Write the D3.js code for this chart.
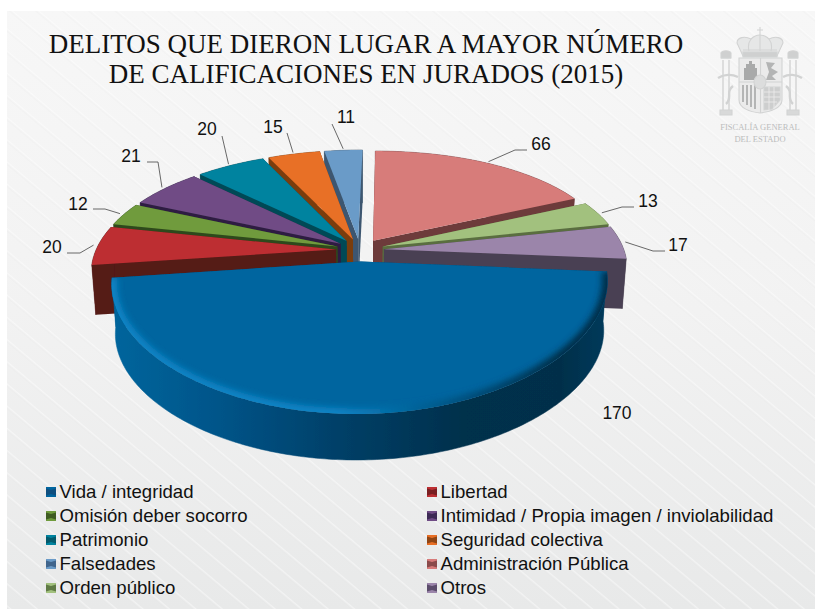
<!DOCTYPE html>
<html><head><meta charset="utf-8">
<style>html,body{margin:0;padding:0;background:#fff}svg{display:block}</style>
<script src="https://cdn.jsdelivr.net/npm/d3@7"></script></head>
<body><svg id="c" width="815" height="609"></svg>
<script>
const categories = ["Vida / integridad","Libertad","Omisión deber socorro","Intimidad / Propia imagen / inviolabilidad","Patrimonio","Seguridad colectiva","Falsedades","Administración Pública","Orden público","Otros"];
const values = [170,20,12,21,20,15,11,66,13,17];
const topColors = ["#00659f","#bd2f33","#6f9b3d","#6f4c85","#00839f","#e86f25","#6a9bc8","#d77b7a","#a2c17e","#9b85aa"];
const wallColors = ["#004a75","#551b18","#2f4a1c","#2e1f42","#004a56","#7a3c10","#3d566f","#6d3a3a","#5a6e40","#4a4153"];
const keyColors = ["#0f4f7f","#7a1f22","#3f5c22","#3d2a55","#045a6c","#8f4515","#40658c","#8a4a4a","#5f7a45","#5b4c6b"];
const leaderPaths = [null,[[80,253],[67,253]],[[105,209],[93,209]],[[158,162],[147,162]],[[222,136]],[[287,133]],[[332,124]],[[515,150],[527,150]],[[622,207],[634,207]],[[653,251],[665,251]]];
const labelAnchors = [[617,413],[52,247],[78,204],[131,156],[207,129],[273,127],[346,117],[541,144],[648,201],[678,245]];
const titleLines = ["DELITOS QUE DIERON LUGAR A MAYOR NÚMERO","DE CALIFICACIONES EN JURADOS (2015)"];
const sealLines = ["FISCALÍA GENERAL","DEL ESTADO"];

const W=815,H=609, svg=d3.select("#c"), defs=svg.append("defs");
const cx=360, cy=250, R=240, Hz=113, kx=0.17, ky=0.22, skew=4, explode=0.1;

// background
const bgG=defs.append("linearGradient").attr("id","bg").attr("x1",0).attr("x2",0).attr("y1",0).attr("y2",1);
bgG.append("stop").attr("offset",0).attr("stop-color","#f7f7f7");
bgG.append("stop").attr("offset",.5).attr("stop-color","#f2f2f2");
bgG.append("stop").attr("offset",1).attr("stop-color","#e8e9e9");
const pat=defs.append("pattern").attr("id","st").attr("width",17).attr("height",17).attr("patternUnits","userSpaceOnUse").attr("patternTransform","rotate(40)");
pat.append("rect").attr("y",0).attr("width",17).attr("height",1.6).attr("fill","#ffffff").attr("opacity",.45);
pat.append("rect").attr("y",1.6).attr("width",17).attr("height",1).attr("fill","#dcdcdc").attr("opacity",.28);
svg.append("rect").attr("x",7).attr("y",11).attr("width",W-7).attr("height",H-11).attr("fill","url(#bg)");
svg.append("rect").attr("x",7).attr("y",11).attr("width",W-7).attr("height",H-11).attr("fill","url(#st)");

const soft=defs.append("filter").attr("id","soft").attr("x","-5%").attr("y","-5%").attr("width","110%").attr("height","110%");
soft.append("feGaussianBlur").attr("stdDeviation",.6);
const bev=defs.append("filter").attr("id","bev").attr("x","-10%").attr("y","-10%").attr("width","120%").attr("height","120%");
bev.append("feGaussianBlur").attr("stdDeviation",3);

// title
svg.append("g").selectAll("text").data(titleLines).join("text")
 .attr("x",366).attr("y",(d,i)=>53+i*30).attr("text-anchor","middle")
 .attr("font-family","Liberation Serif").attr("font-size",27).attr("fill","#111").text(d=>d);

// crest (decorative)
const crest=svg.append("g").attr("filter","url(#soft)").attr("fill","none").attr("stroke","#d2d3d3").attr("stroke-width",1.1);
crest.append("path").attr("d","M743 56L737 43C737 37 745 36 751 39C754 36 757 35 760 35C763 35 766 36 769 39C775 36 783 37 783 43L777 56Z").attr("fill","#e6e7e7");
crest.append("path").attr("d","M743 50H777M751 39C748 43 748 47 749 51M769 39C772 43 772 47 771 51M760 35V51M760 35V27M757 30H763");
crest.append("path").attr("d","M743 52H777V57H743Z").attr("fill","#cfd0d0");
crest.append("path").attr("d","M739 58H782V100C782 108 770 112 760 113C750 112 739 108 739 100Z").attr("fill","#ebebeb");
crest.append("path").attr("d","M739 82H782M760.5 58V113");
crest.append("path").attr("d","M744 80V68H746V64H749V61H752V64H755V68H757V80Z").attr("fill","#a9aaaa").attr("stroke","none");
crest.append("path").attr("d","M766 62L775 63L771 68L778 72L772 76L776 80H766L769 72Z").attr("fill","#b3b4b4").attr("stroke","none");
crest.append("path").attr("d","M743 85V102M747 85V105M751 85V107M755 85V109").attr("stroke","#b4b5b5").attr("stroke-width",2);
crest.append("path").attr("d","M764 87H780V100L772 109L764 110Z").attr("fill","#cdcece");
crest.append("path").attr("d","M764 92H780M764 97H780M764 102H777M769 87V110M774 87V108").attr("stroke","#eeeeee").attr("stroke-width",.8);
crest.append("ellipse").attr("cx",760).attr("cy",82).attr("rx",6).attr("ry",7).attr("fill","#dcdddd");
crest.append("path").attr("d","M723 60V110M729 60V110M790 60V110M796 60V110").attr("stroke-width",1.4);
crest.append("path").attr("d","M721 58H731M788 58H798M720 110H732V115H720ZM787 110H799V115H787Z").attr("fill","#d8d9d9");
crest.append("path").attr("d","M721 58V53C722 50 730 50 731 53V58ZM788 58V53C789 50 797 50 798 53V58Z").attr("fill","#cfd0d0");
crest.append("path").attr("d","M718 78C724 74 732 74 738 77M802 78C796 74 788 74 783 77M733 86C725 92 733 98 726 104M786 86C794 92 786 98 793 104").attr("stroke-width",2.4);
svg.append("g").selectAll("text").data(sealLines).join("text")
 .attr("x",760).attr("y",(d,i)=>130+i*11.5).attr("text-anchor","middle").attr("font-family","Liberation Serif")
 .attr("font-size",8.5).attr("fill","#bcbdbd").text(d=>d);

// pie
const pieGen=d3.pie().sort(null).startAngle(94.7*Math.PI/180).endAngle((94.7+360)*Math.PI/180);
const arcs=pieGen(values);
const project=(u,v)=>[cx+R*u/(1+kx*v)+skew*v, cy-Hz*v/(1+ky*v)];
const drop=p=>[cx+(p[0]-cx)*0.985, p[1]+50-4*(p[1]-260)/155];
const line=d3.line().curve(d3.curveLinear);
const slices=arcs.map((a,i)=>{
  const mid=(a.startAngle+a.endAngle)/2, ox=explode*Math.sin(mid), oy=explode*Math.cos(mid);
  const n=Math.max(3,Math.ceil((a.endAngle-a.startAngle)/0.015));
  const outer=d3.range(n+1).map(j=>{const t=a.startAngle+(a.endAngle-a.startAngle)*j/n;return project(ox+Math.sin(t),oy+Math.cos(t));});
  const apex=project(ox,oy);
  return {i,mid,apex,outer,anchor:project(ox+1.02*Math.sin(mid),oy+1.02*Math.cos(mid)),order:oy+0.3*Math.cos(mid)};
});
const pieG=svg.append("g").attr("filter","url(#soft)");
const sideG=defs.append("linearGradient").attr("id","vidaSide").attr("gradientUnits","userSpaceOnUse").attr("x1",115).attr("x2",610).attr("y1",0).attr("y2",0);
[[0,"#00659c"],[.2,"#00558a"],[.45,"#004068"],[.7,"#03304c"],[.9,"#042f4a"],[1,"#063b5c"]].forEach(s=>sideG.append("stop").attr("offset",s[0]).attr("stop-color",s[1]));
const bevG=defs.append("linearGradient").attr("id","vidaBev").attr("gradientUnits","userSpaceOnUse").attr("x1",115).attr("x2",610).attr("y1",0).attr("y2",0);
[[0,"#0a84c6"],[.45,"#0a84c6"],[.7,"#00507e"],[.9,"#022f49"],[1,"#022f49"]].forEach(s=>bevG.append("stop").attr("offset",s[0]).attr("stop-color",s[1]));

slices.slice().sort((a,b)=>d3.descending(a.order,b.order)).forEach(s=>{
  const g=pieG.append("g");
  const wall=s.i===0?"url(#vidaSide)":wallColors[s.i];
  const first=s.outer[0], last=s.outer[s.outer.length-1];
  [first,last].forEach(p=>{
    g.append("path").attr("d",line([s.apex,p,drop(p),drop(s.apex)])+"Z").attr("fill",wallColors[s.i]);
  });
  g.append("path").attr("d",line(s.outer.concat(s.outer.map(drop).reverse()))+"Z").attr("fill",wall).attr("stroke",wall).attr("stroke-width",.5);
  const topD=line([s.apex].concat(s.outer))+"Z";
  g.append("path").attr("d",topD).attr("fill",topColors[s.i]);
  if(s.i===0){
    defs.append("clipPath").attr("id","vidaClip").append("path").attr("d",topD);
    g.append("g").attr("clip-path","url(#vidaClip)").append("path").attr("d",line(s.outer)).attr("fill","none")
      .attr("stroke","url(#vidaBev)").attr("stroke-width",11).attr("filter","url(#bev)");
  }
});

// leaders
svg.append("g").selectAll("path").data(slices.filter(s=>leaderPaths[s.i])).join("path")
 .attr("d",s=>line([s.anchor].concat(leaderPaths[s.i]))).attr("fill","none").attr("stroke","#444").attr("stroke-width",.8);
// value labels
svg.append("g").selectAll("text").data(values).join("text")
 .attr("x",(d,i)=>labelAnchors[i][0]).attr("y",(d,i)=>labelAnchors[i][1]+6.2).attr("text-anchor","middle")
 .attr("font-family","Liberation Sans").attr("font-size",17.5).attr("fill","#111").text(d=>d);

// legend
const legX=d3.scalePoint().domain([0,1]).range([46,427]);
const legY=d3.scalePoint().domain(d3.range(5)).range([492,588]);
const leg=svg.append("g").selectAll("g").data(categories).join("g")
 .attr("transform",(d,i)=>`translate(${legX(i%2)},${legY(Math.floor(i/2))})`);
leg.append("rect").attr("x",0).attr("y",-5).attr("width",10).attr("height",10).attr("fill",(d,i)=>topColors[i]);
leg.append("path").attr("d","M0,-3.5L5,-2L10,-3.5V3.5L5,2L0,3.5Z").attr("fill",(d,i)=>keyColors[i]);
leg.append("text").attr("x",13.5).attr("y",6.4).attr("font-family","Liberation Sans").attr("font-size",18.6).attr("fill","#111").text(d=>d);
</script></body></html>
